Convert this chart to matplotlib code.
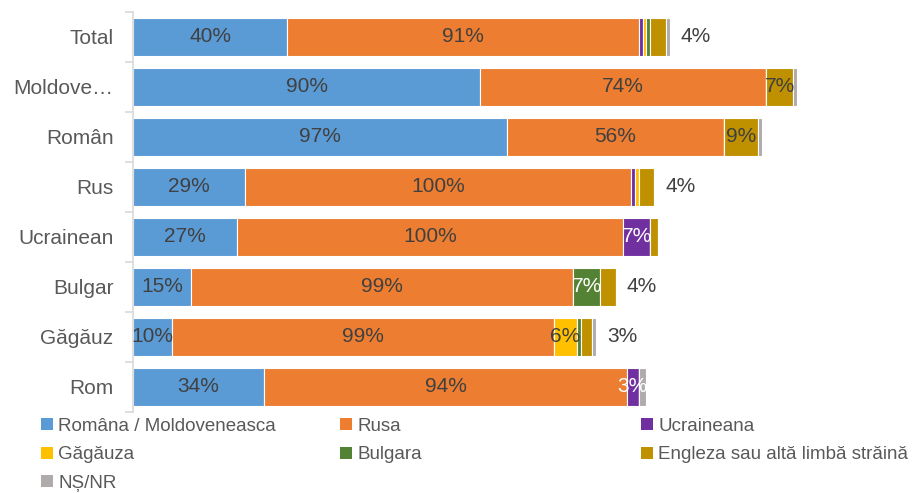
import numpy as np
import matplotlib.pyplot as plt
from matplotlib.patches import Patch

plt.rcParams['font.family'] = ['Liberation Sans', 'DejaVu Sans']

# Limba vorbită, pe etnii (%)
categorii = ["Total", "Moldove…", "Român", "Rus", "Ucrainean", "Bulgar", "Găgăuz", "Rom"]

romana = [40, 90, 97, 29, 27, 15, 10, 34]
rusa = [91, 74, 56, 100, 100, 99, 99, 94]
ucraineana = [1, 0, 0, 1, 7, 0, 0, 3]
gagauza = [1, 0, 0, 1, 0, 0, 6, 0]
bulgara = [1, 0, 0, 0, 0, 7, 1, 0]
engleza = [4, 7, 9, 4, 2, 4, 3, 0]
ns_nr = [1, 1, 1, 0, 0, 0, 1, 2]

serii = [
    ("Româna / Moldoveneasca", romana, "#5B9BD5", "#404040"),
    ("Rusa", rusa, "#ED7D31", "#404040"),
    ("Ucraineana", ucraineana, "#7030A0", "white"),
    ("Găgăuza", gagauza, "#FFC000", "#404040"),
    ("Bulgara", bulgara, "#548235", "white"),
    ("Engleza sau altă limbă străină", engleza, "#BF9000", "#404040"),
    ("NȘ/NR", ns_nr, "#AFABAB", "#404040"),
]

fig = plt.figure(figsize=(9.13, 4.93), dpi=100)
ax = fig.add_axes([133 / 913, 1 - 412 / 493, 772 / 913, 400 / 493])

y = np.arange(len(categorii))
totaluri = np.sum([s[1] for s in serii], axis=0)
stanga = np.zeros(len(categorii))

for nume, valori, culoare, culoare_text in serii:
    valori = np.array(valori, dtype=float)
    ax.barh(y, valori, left=stanga, height=0.76, color=culoare,
            edgecolor="white", linewidth=0.8, label=nume)
    for i, v in enumerate(valori):
        if v < 3:
            continue
        if nume.startswith("Engleza") and v <= 4:
            # etichetele mici pentru engleză stau în dreapta barei
            ax.annotate(f"{v:.0f}%", (totaluri[i], y[i]), xytext=(8, 0),
                        textcoords="offset points", ha="left", va="center",
                        fontsize=15, color="#404040")
        else:
            ax.text(stanga[i] + v / 2, y[i], f"{v:.0f}%", ha="center",
                    va="center", fontsize=15, color=culoare_text)
    stanga += valori

ax.set_xlim(0, 200)
ax.set_ylim(len(categorii) - 0.5, -0.5)
ax.set_yticks(y)
ax.set_yticklabels(categorii, fontsize=15, color="#595959")
ax.set_yticks(np.arange(len(categorii) + 1) - 0.5, minor=True)
ax.tick_params(axis="y", which="major", length=0, pad=14)
ax.tick_params(axis="y", which="minor", length=6, color="#D9D9D9", width=1.2)
ax.set_xticks([])
for s in ["top", "right", "bottom"]:
    ax.spines[s].set_visible(False)
ax.spines["left"].set_color("#D9D9D9")
ax.spines["left"].set_linewidth(1.2)

# legenda pe trei coloane, ordonată pe rânduri
handles = [Patch(facecolor=c, label=n) for n, _, c, _ in serii]
coloane = [[0, 3, 6], [1, 4], [2, 5]]
pozitii_x = [41 / 913, 340 / 913, 641 / 913]
for idx, x0 in zip(coloane, pozitii_x):
    fig.legend(handles=[handles[k] for k in idx], loc="upper left",
               bbox_to_anchor=(x0, 1 - 418 / 493), frameon=False, fontsize=13.5,
               handlelength=0.62, handleheight=0.62, handletextpad=0.3,
               labelspacing=0.6, borderpad=0, borderaxespad=0,
               labelcolor="#595959")

fig.savefig("out.png", dpi=100)
